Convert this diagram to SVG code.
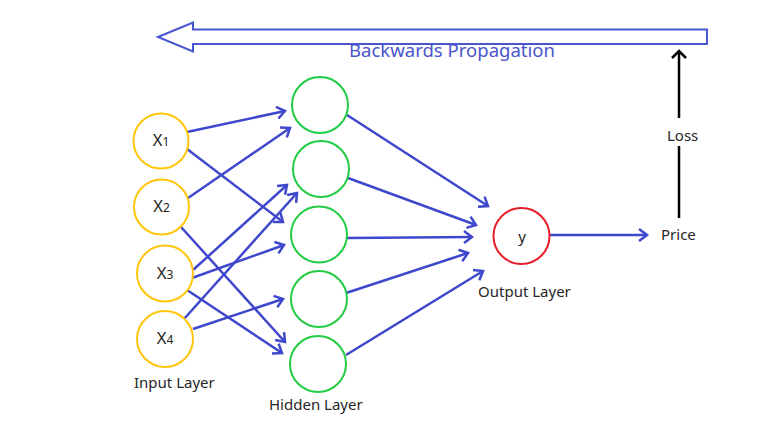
<svg xmlns="http://www.w3.org/2000/svg" width="770" height="427" viewBox="0 0 770 427">
<style>
.t{font-family:"Noto Sans","Open Sans","Liberation Sans",sans-serif;font-size:15px;fill:#262626}
.xl{font-family:"Noto Sans","Open Sans","Liberation Sans",sans-serif;font-size:16.5px;fill:#262626}
.in{fill:none;stroke:#FFC60B;stroke-width:2}
.hid{fill:none;stroke:#22CC44;stroke-width:2}
.out{fill:none;stroke:#E8202A;stroke-width:2}
.c{fill:none;stroke:#3F48CC;stroke-width:2.5;marker-end:url(#ah)}
</style>
<defs>
<marker id="ah" markerUnits="userSpaceOnUse" markerWidth="14" markerHeight="16" refX="11" refY="7" orient="auto" viewBox="0 0 14 14">
<path d="M3,1 L11,7 L3,13" fill="none" stroke="#3F48CC" stroke-width="2.5"/>
</marker>
<marker id="bh" markerUnits="userSpaceOnUse" markerWidth="16" markerHeight="16" refX="11" refY="8" orient="auto" viewBox="0 0 16 16">
<path d="M4,1 L11,8 L4,15" fill="none" stroke="#000" stroke-width="2.5"/>
</marker>
</defs>
<rect width="770" height="427" fill="#fff"/>
<g id="backprop">
<polygon points="158,37 193,22.5 193,29.5 707,29.5 707,44 193,44 193,51.5" fill="#fff" stroke="#4A55D0" stroke-width="2"/>
<text x="349" y="57" textLength="206" lengthAdjust="spacingAndGlyphs" style="font-family:'Noto Sans','Open Sans','Liberation Sans',sans-serif;font-size:17.5px;fill:#4A55CC">Backwards Propagation</text>
</g>
<g id="connectors">
<line class="c" x1="187" y1="132" x2="285" y2="111"/>
<line class="c" x1="187" y1="149" x2="283" y2="222"/>
<line class="c" x1="188" y1="198" x2="290" y2="128"/>
<line class="c" x1="181" y1="227" x2="285" y2="342"/>
<line class="c" x1="193" y1="270" x2="287" y2="185"/>
<line class="c" x1="192" y1="278" x2="284" y2="245"/>
<line class="c" x1="187" y1="290" x2="282" y2="353"/>
<line class="c" x1="184" y1="319" x2="297" y2="193"/>
<line class="c" x1="193" y1="329" x2="283" y2="299"/>
<line class="c" x1="347" y1="115" x2="488" y2="206"/>
<line class="c" x1="348" y1="178" x2="476" y2="225"/>
<line class="c" x1="347" y1="238" x2="472" y2="237"/>
<line class="c" x1="346" y1="293" x2="468" y2="253"/>
<line class="c" x1="346" y1="355" x2="483" y2="271"/>
<line class="c" x1="550" y1="235" x2="647" y2="235"/>
<line x1="679" y1="218" x2="679" y2="146" stroke="#000" stroke-width="2.5"/>
<line x1="679" y1="118" x2="679" y2="51" stroke="#000" stroke-width="2.5" marker-end="url(#bh)"/>
</g>
<g id="x1"><circle class="in" cx="161" cy="141" r="27.5"/><text class="xl" x="161" y="146" text-anchor="middle">X<tspan font-size="12">1</tspan></text></g>
<g id="x2"><circle class="in" cx="161.5" cy="207" r="27.5"/><text class="xl" x="161.5" y="212" text-anchor="middle">X<tspan font-size="12">2</tspan></text></g>
<g id="x3"><circle class="in" cx="165" cy="273.5" r="28"/><text class="xl" x="165" y="278.5" text-anchor="middle">X<tspan font-size="12">3</tspan></text></g>
<g id="x4"><circle class="in" cx="165" cy="339" r="28"/><text class="xl" x="165" y="344" text-anchor="middle">X<tspan font-size="12">4</tspan></text></g>
<g id="input-label"><text class="t" x="134" y="388">Input Layer</text></g>
<g id="h1"><circle class="hid" cx="320" cy="105" r="28"/></g>
<g id="h2"><circle class="hid" cx="321" cy="169" r="28"/></g>
<g id="h3"><circle class="hid" cx="319" cy="234.5" r="28"/></g>
<g id="h4"><circle class="hid" cx="319" cy="299" r="28"/></g>
<g id="h5"><circle class="hid" cx="318" cy="364" r="28"/></g>
<g id="hidden-label"><text class="t" x="269" y="410">Hidden Layer</text></g>
<g id="y"><circle class="out" cx="521.5" cy="236" r="28"/><text class="t" x="522" y="242" text-anchor="middle">y</text></g>
<g id="output-label"><text class="t" x="478" y="297">Output Layer</text></g>
<g id="price"><text class="t" x="661" y="240">Price</text></g>
<g id="loss"><text class="t" x="667" y="141">Loss</text></g>
</svg>
